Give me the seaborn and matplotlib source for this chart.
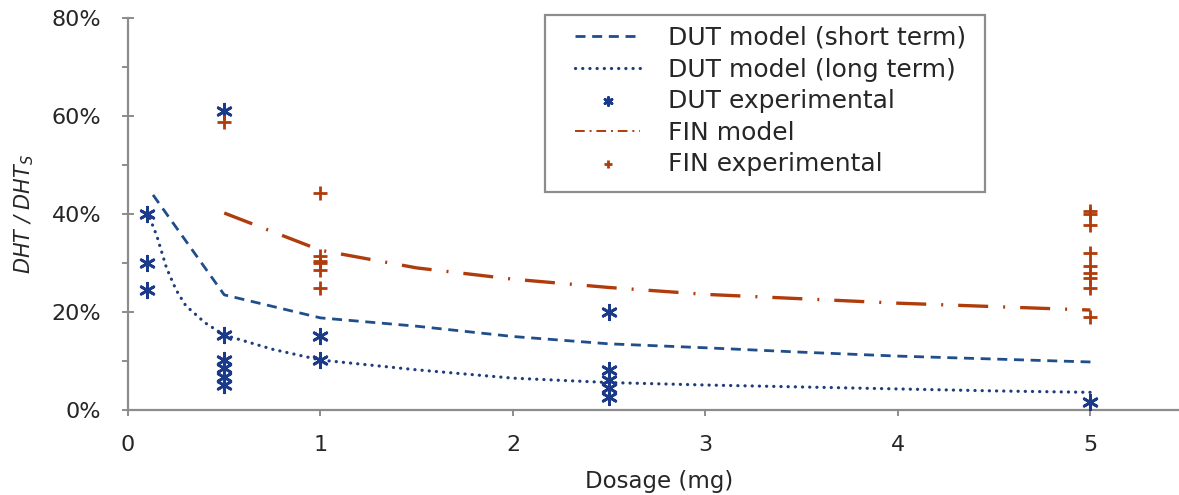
import matplotlib
matplotlib.use("Agg")
import matplotlib.pyplot as plt
import seaborn as sns
from matplotlib.lines import Line2D
from matplotlib.patches import Rectangle
from matplotlib.ticker import MultipleLocator, FuncFormatter

# ---------------- data (values in %) ----------------
dut_short_x = [0.13, 0.5, 1, 1.5, 2, 2.5, 3, 3.5, 4, 4.5, 5]
dut_short_y = [43.9, 23.5, 18.8, 17.1, 15.0, 13.5, 12.7, 11.8, 11.0, 10.4, 9.8]

dut_long_x = [0.1, 0.15, 0.2, 0.25, 0.3, 0.4, 0.5, 0.75, 1, 1.5, 2, 2.5, 3, 3.5, 4, 4.5, 5]
dut_long_y = [40.5, 35.5, 29.0, 24.5, 21.3, 17.8, 15.3, 12.4, 10.2, 8.2, 6.5, 5.6, 5.1, 4.7, 4.3, 3.9, 3.6]

fin_model_x = [0.5, 1, 1.5, 2, 2.5, 3, 3.5, 4, 4.5, 5]
fin_model_y = [40.2, 32.6, 29.0, 26.7, 25.0, 23.6, 22.7, 21.8, 21.1, 20.4]

dut_exp_x = [0.1, 0.1, 0.1, 0.5, 0.5, 0.5, 0.5, 0.5, 0.5, 1, 1, 2.5, 2.5, 2.5, 2.5, 2.5, 5]
dut_exp_y = [40.0, 30.0, 24.5, 61.0, 15.3, 10.2, 8.5, 6.8, 5.2, 15.2, 10.2, 19.9, 8.2, 6.1, 4.5, 2.7, 1.6]

fin_exp_x = [0.5, 1, 1, 1, 1, 1, 1, 5, 5, 5, 5, 5, 5, 5, 5, 5]
fin_exp_y = [58.8, 44.3, 31.5, 30.5, 30.0, 28.6, 24.9,
             40.6, 40.1, 37.8, 32.0, 29.3, 27.9, 26.9, 24.8, 18.9]

labels = ["DUT model (short term)", "DUT model (long term)", "DUT experimental",
          "FIN model", "FIN experimental"]
x_ticks = [0, 1, 2, 3, 4, 5]
y_ticks = [0, 20, 40, 60, 80]

# ---------------- style ----------------
sns.set_style("white")
plt.rcParams["font.family"] = ["DejaVu Sans"]
plt.rcParams["mathtext.fontset"] = "custom"
plt.rcParams["mathtext.it"] = "DejaVu Sans:italic"
plt.rcParams["mathtext.rm"] = "DejaVu Sans"

BLUE_D = "#1f4e8a"
BLUE_L = "#1f3d7c"
BLUE_P = "#1b3a8a"
ORANGE = "#b03c0c"
GREY = "#8c8c8c"
TXT = "#262626"

fig = plt.figure(figsize=(11.79, 4.95), dpi=100)
ax = fig.add_axes([128 / 1179, 85 / 495, 1051 / 1179, 392 / 495])

# model lines
sns.lineplot(x=dut_short_x, y=dut_short_y, ax=ax, color=BLUE_D, linewidth=2.0,
             label=labels[0], sort=False, estimator=None)
ax.lines[-1].set_dashes((3.6, 2.4))

sns.lineplot(x=dut_long_x, y=dut_long_y, ax=ax, color=BLUE_L, linewidth=2.3,
             label=labels[1], sort=False, estimator=None)
ax.lines[-1].set_dashes((0.05, 2.2))
ax.lines[-1].set_dash_capstyle("round")

sns.scatterplot(x=dut_exp_x, y=dut_exp_y, ax=ax, marker=(6, 2, 0), s=110,
                color=BLUE_P, linewidth=2.0, label=labels[2], zorder=4)

sns.lineplot(x=fin_model_x, y=fin_model_y, ax=ax, color=ORANGE, linewidth=2.4,
             label=labels[3], sort=False, estimator=None)
ax.lines[-1].set_dashes((9, 4.5, 0.6, 4.5))

sns.scatterplot(x=fin_exp_x, y=fin_exp_y, ax=ax, marker="+", s=115,
                color=ORANGE, linewidth=2.0, label=labels[4], zorder=4)

# axes
ax.set_xlim(0, 5.46)
ax.set_ylim(0, 80)
ax.set_xticks(x_ticks)
ax.set_yticks(y_ticks)
ax.yaxis.set_minor_locator(MultipleLocator(10))
ax.yaxis.set_major_formatter(FuncFormatter(lambda v, p: f"{v:.0f}%"))

for side in ["top", "right"]:
    ax.spines[side].set_visible(False)
for side in ["left", "bottom"]:
    ax.spines[side].set_color(GREY)
    ax.spines[side].set_linewidth(1.6)

ax.tick_params(axis="y", which="major", direction="inout", length=8.6, width=1.4,
               color=GREY, pad=15, labelsize=16, labelcolor=TXT, left=True)
ax.tick_params(axis="y", which="minor", direction="out", length=4.3, width=1.4,
               color=GREY, left=True)
ax.tick_params(axis="x", which="major", direction="out", length=4.3, width=1.4,
               color=GREY, pad=14, labelsize=16, labelcolor=TXT, bottom=True)

ax.set_xlabel("Dosage (mg)", fontsize=16.5, color=TXT)
ax.xaxis.set_label_coords(0.505, -0.152)
ax.set_ylabel(r"DHT / DHT$_S$", fontsize=15, color=TXT, style="italic")
ax.yaxis.set_label_coords(-0.088, 0.5)

# legend: frame drawn separately to mimic the asymmetric Excel padding
handles, hlabels = ax.get_legend_handles_labels()
if ax.get_legend() is not None:
    ax.get_legend().remove()
fig.add_artist(Rectangle((545 / 1179, 1 - 192 / 495), 440 / 1179, 177 / 495,
                         transform=fig.transFigure, fill=True, facecolor="white",
                         edgecolor=GREY, linewidth=1.6, zorder=2.5))
leg = fig.legend(handles, hlabels, loc="upper left",
                 bbox_to_anchor=(575 / 1179, 1 - 26 / 495),
                 bbox_transform=fig.transFigure, borderaxespad=0, borderpad=0,
                 fontsize=18, frameon=False, markerscale=0.55,
                 handlelength=2.6, handletextpad=1.1, labelspacing=0.3)
leg.set_zorder(3)
for t in leg.get_texts():
    t.set_color(TXT)
# thinner dash-dot sample in the legend, as in the reference
for h, lab in zip(leg.legend_handles, hlabels):
    if lab == "FIN model" and isinstance(h, Line2D):
        h.set_linewidth(1.4)
        h.set_dashes((5, 2.5, 1, 2.5))

fig.savefig("out.png", dpi=100)
